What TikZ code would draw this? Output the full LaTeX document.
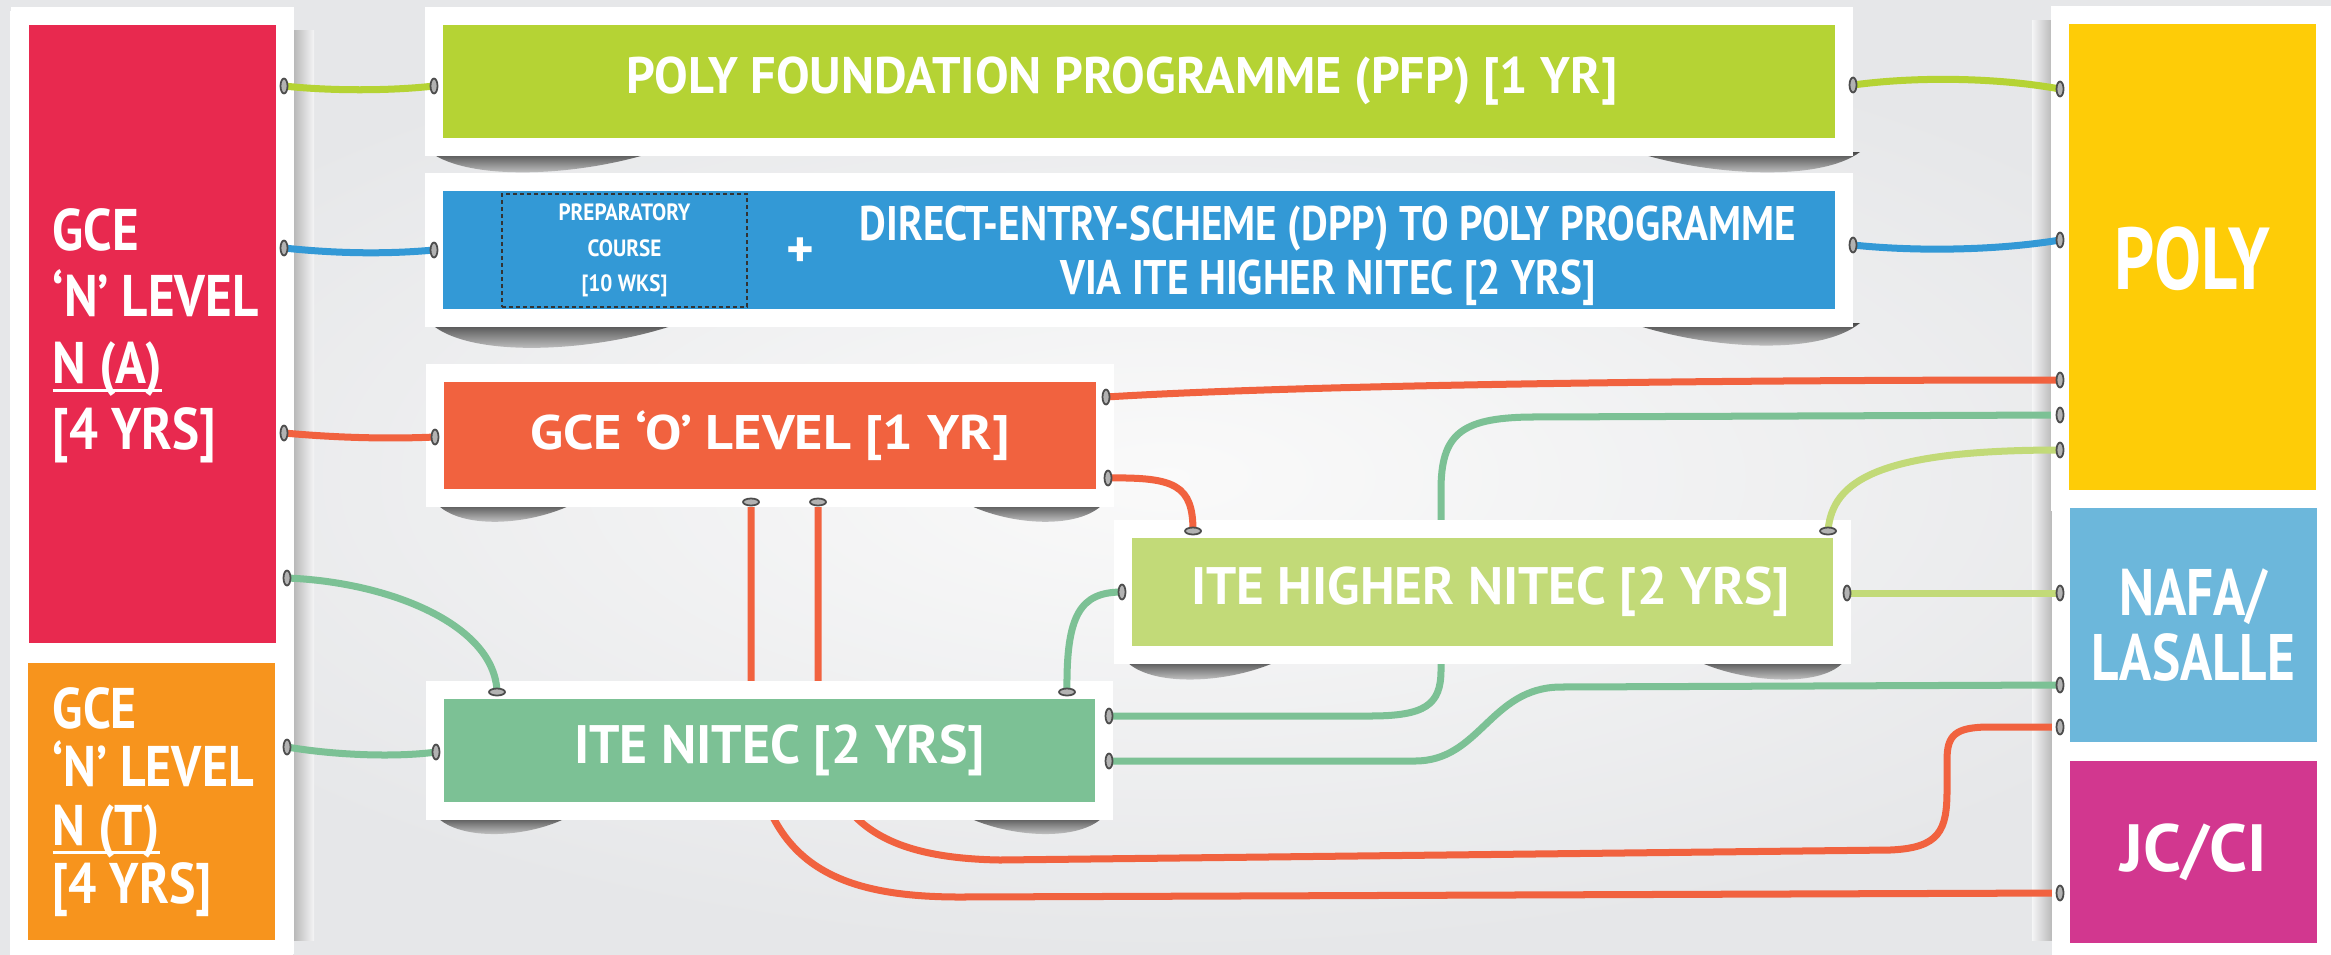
\documentclass[tikz,border=0pt]{standalone}
\usepackage{fontspec}
\newfontfamily\boxfont{PT Sans}
\usetikzlibrary{shadings}

\definecolor{bgGray}{HTML}{E6E7E9}
\definecolor{naRed}{HTML}{E8294F}
\definecolor{ntOrange}{HTML}{F7941D}
\definecolor{pfpGreen}{HTML}{B5D334}
\definecolor{dppBlue}{HTML}{3399D6}
\definecolor{olRed}{HTML}{F1623F}
\definecolor{hiGreen}{HTML}{C2DA78}
\definecolor{itGreen}{HTML}{7CC195}
\definecolor{polyYellow}{HTML}{FECC07}
\definecolor{nafaBlue}{HTML}{6CB7DB}
\definecolor{jcPink}{HTML}{D2378F}
\definecolor{shadowGray}{HTML}{4A4A4A}

\newcommand{\lineunder}[1]{\leavevmode\vtop{\hbox{\smash{#1}}\kern0.06cm\hrule height 0.03cm}}

\tikzset{
  box/.style={draw=white, line width=0.18cm, fill=#1, text=white, inner sep=0pt, align=center},
  label/.style={text=white, inner sep=0pt},
  fs/.style n args={3}{font=\boxfont\bfseries\addfontfeatures{FakeStretch=#3}\fontsize{#1}{#2}\selectfont},
  wire/.style={draw=#1, line width=0.07cm, line cap=round},
  grommet/.style={fill=gray!60, draw=black!70, line width=0.5pt},
  boxshadow/.style={top color=shadowGray, bottom color=bgGray!40},
}

\begin{document}
\begin{tikzpicture}[x=0.01cm, y=-0.01cm]
  % Fundo
  \useasboundingbox (0,0) rectangle (2331,954);
  \shade[inner color=white!96!gray, outer color=bgGray] (0,0) rectangle (2331,954);

  % Colunas brancas e sombras
  \shade[left color=gray!55, right color=bgGray!40] (294,30) rectangle (314,940);
  \shade[left color=bgGray!40, right color=gray!55] (2032,20) rectangle (2052,940);
  \fill[white] (10,11) rectangle (294,954);
  \fill[white] (2052,7) rectangle (2331,954);

  % Sombras das caixas
  \shade[boxshadow] (430,152) .. controls (470,182) and (580,176) .. (654,152) -- cycle;
  \shade[boxshadow] (1635,152) .. controls (1710,176) and (1820,182) .. (1860,152) -- cycle;
  \shade[boxshadow] (430,323) .. controls (470,360) and (600,352) .. (680,323) -- cycle;
  \shade[boxshadow] (1630,323) .. controls (1710,350) and (1820,356) .. (1860,323) -- cycle;
  \shade[boxshadow] (436,503) .. controls (460,530) and (530,526) .. (575,503) -- cycle;
  \shade[boxshadow] (965,503) .. controls (1010,526) and (1080,530) .. (1104,503) -- cycle;
  \shade[boxshadow] (1125,660) .. controls (1150,688) and (1230,684) .. (1280,660) -- cycle;
  \shade[boxshadow] (1695,660) .. controls (1745,684) and (1825,688) .. (1845,660) -- cycle;
  \shade[boxshadow] (436,816) .. controls (460,842) and (530,838) .. (570,816) -- cycle;
  \shade[boxshadow] (965,816) .. controls (1010,838) and (1080,842) .. (1104,816) -- cycle;

  % Pontos de ligacao
  \coordinate (naPfp) at (284,86);
  \coordinate (naDpp) at (284,248);
  \coordinate (naOl) at (284,433);
  \coordinate (naIte) at (287,578);
  \coordinate (ntIte) at (287,747);
  \coordinate (pfpW) at (434,86);
  \coordinate (pfpE) at (1853,85);
  \coordinate (dppW) at (434,250);
  \coordinate (dppE) at (1853,245);
  \coordinate (olW) at (435,437);
  \coordinate (olE1) at (1106,397);
  \coordinate (olE2) at (1108,478);
  \coordinate (olS1) at (751,502);
  \coordinate (olS2) at (818,502);
  \coordinate (hiN1) at (1193,531);
  \coordinate (hiN2) at (1828,531);
  \coordinate (hiW) at (1122,592);
  \coordinate (hiE) at (1847,593);
  \coordinate (itW) at (436,752);
  \coordinate (itN1) at (497,692);
  \coordinate (itN2) at (1067,692);
  \coordinate (itE1) at (1109,716);
  \coordinate (itE2) at (1109,761);
  \coordinate (polyA) at (2060,89);
  \coordinate (polyB) at (2060,240);
  \coordinate (polyC) at (2060,380);
  \coordinate (polyD) at (2060,415);
  \coordinate (polyE) at (2060,450);
  \coordinate (nafaA) at (2060,593);
  \coordinate (nafaB) at (2060,685);
  \coordinate (nafaC) at (2060,727);
  \coordinate (jcA) at (2060,893);

  % Ligacoes por baixo das caixas
  \draw[wire=itGreen] (itE1) -- (1370,716) .. controls (1425,716) and (1441,705) .. (1441,670) -- (1441,490) .. controls (1441,435) and (1460,418) .. (1530,417) -- (polyD);
  \draw[wire=olRed] (olS1) -- (751,730) .. controls (762,860) and (830,897) .. (960,897) -- (jcA);
  \draw[wire=olRed] (olS2) -- (818,730) .. controls (830,820) and (880,858) .. (1000,860) -- (1890,850) .. controls (1940,848) and (1947,830) .. (1947,790) -- (1947,760) .. controls (1947,735) and (1955,727) .. (1990,727) -- (nafaC);

  % Caixas da esquerda
  \node[box=naRed, minimum width=2.65cm, minimum height=6.36cm] (gceNA) at (152.5,334) {};
  \node[label, anchor=west, align=left, fs={16.7}{18.9}{0.87}] (gceNAtext) at (52,336) {GCE\\‘N’ LEVEL\\\lineunder{N (A)}\\{[}4 YRS]};
  \node[box=ntOrange, minimum width=2.65cm, minimum height=2.95cm] (gceNT) at (151.5,801.5) {};
  \node[label, anchor=west, align=left, fs={16.3}{16.6}{0.87}] (gceNTtext) at (52,802) {GCE\\‘N’ LEVEL\\\lineunder{N (T)}\\{[}4 YRS]};

  % Caixas do meio
  \node[box=pfpGreen, minimum width=14.10cm, minimum height=1.31cm, fs={14.6}{16}{0.98}] (pfp) at (1139,81.5) {POLY FOUNDATION PROGRAMME (PFP) [1 YR]\hspace*{0.34cm}};
  \node[box=dppBlue, minimum width=14.10cm, minimum height=1.36cm] (dpp) at (1139,250) {};
  \node[draw=black!80, dashed, line width=0.025cm, dash pattern=on 0.04cm off 0.03cm, minimum width=2.45cm, minimum height=1.13cm, label, align=center, fs={6.7}{10.1}{0.9}] (prep) at (624.5,250.5) {PREPARATORY\\COURSE\\{[}10 WKS]};
  \node[label, fs={15}{15}{1}] (plus) at (800,253) {+};
  \node[label, align=center, fs={13.8}{15.4}{0.85}] (dppText) at (1328,256) {DIRECT-ENTRY-SCHEME (DPP) TO POLY PROGRAMME\\VIA ITE HIGHER NITEC [2 YRS]};
  \node[box=olRed, minimum width=6.70cm, minimum height=1.25cm, fs={13.8}{15}{1.12}] (olevel) at (770,435.5) {GCE ‘O’ LEVEL [1 YR]};
  \node[box=hiGreen, minimum width=7.19cm, minimum height=1.26cm, fs={15}{16}{1.01}] (higher) at (1482.5,592) {\hspace*{0.16cm}ITE HIGHER NITEC [2 YRS]};
  \node[box=itGreen, minimum width=6.69cm, minimum height=1.21cm, fs={15.4}{16}{0.99}] (nitec) at (769.5,750.5) {\hspace*{0.2cm}ITE NITEC [2 YRS]};

  % Caixas da direita
  \node[box=polyYellow, minimum width=2.65cm, minimum height=4.87cm, fs={25}{26}{0.8}] (poly) at (2192.5,258.5) {POLY};
  \node[box=nafaBlue, minimum width=2.65cm, minimum height=2.51cm, fs={18.7}{18.5}{0.81}] (nafa) at (2193.5,625) {NAFA/\\LASALLE};
  \node[box=jcPink, minimum width=2.65cm, minimum height=2.00cm, fs={19}{19}{1.02}] (jcci) at (2193.5,852) {JC/CI};

  % Ligacoes
  \draw[wire=pfpGreen] (naPfp) .. controls (330,91) and (390,91) .. (pfpW);
  \draw[wire=dppBlue] (naDpp) .. controls (340,254) and (390,254) .. (dppW);
  \draw[wire=olRed] (naOl) .. controls (340,438) and (390,439) .. (olW);
  \draw[wire=itGreen] (naIte) .. controls (390,582) and (495,625) .. (itN1);
  \draw[wire=itGreen] (ntIte) .. controls (340,756) and (400,757) .. (itW);
  \draw[wire=pfpGreen] (pfpE) .. controls (1920,76) and (2000,78) .. (polyA);
  \draw[wire=dppBlue] (dppE) .. controls (1920,252) and (2000,250) .. (polyB);
  \draw[wire=olRed] (olE1) .. controls (1300,385) and (1700,380) .. (polyC);
  \draw[wire=olRed] (olE2) .. controls (1175,477) and (1193,485) .. (hiN1);
  \draw[wire=itGreen] (itN2) .. controls (1066,615) and (1080,592) .. (hiW);
  \draw[wire=hiGreen] (hiN2) .. controls (1832,480) and (1880,450) .. (polyE);
  \draw[wire=hiGreen] (hiE) -- (nafaA);
  \draw[wire=itGreen] (itE2) -- (1415,761) .. controls (1480,761) and (1490,688) .. (1560,687) -- (nafaB);

  % Ilhoses
  \foreach \t in {naPfp,naDpp,naOl,naIte,ntIte,pfpW,pfpE,dppW,dppE,olW,olE1,olE2,hiW,hiE,itW,itE1,itE2,polyA,polyB,polyC,polyD,polyE,nafaA,nafaB,nafaC,jcA}
    \filldraw[grommet] (\t) ellipse [x radius=3.5, y radius=7.5];
  \foreach \t in {olS1,olS2,hiN1,hiN2,itN1,itN2}
    \filldraw[grommet] (\t) ellipse [x radius=8, y radius=3.5];
\end{tikzpicture}
\end{document}
